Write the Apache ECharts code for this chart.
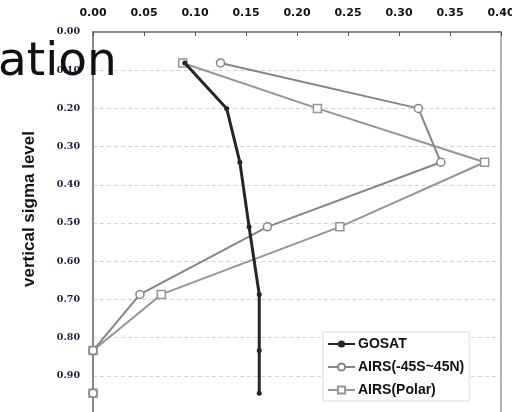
<!DOCTYPE html>
<html>
<head>
<meta charset="utf-8">
<script src="https://cdn.jsdelivr.net/npm/echarts@6/dist/echarts.min.js"></script>
<style>
  html, body { margin: 0; padding: 0; background: #fff; }
  #chart { width: 512px; height: 412px; }
</style>
</head>
<body>
<div id="chart"></div>
<script>
// Vertical sigma levels (y) shared by all profiles
const sigmaLevels = [0.081, 0.200, 0.341, 0.510, 0.687, 0.834, 0.946];
// Weighting profiles per series
const gosat = [0.090, 0.131, 0.144, 0.153, 0.163, 0.163, 0.163];
const airsTropics = [0.125, 0.319, 0.341, 0.171, 0.046, 0.000, 0.000];
const airsPolar = [0.088, 0.220, 0.384, 0.242, 0.067, 0.000, 0.000];
const seriesNames = ['GOSAT', 'AIRS(-45S~45N)', 'AIRS(Polar)'];
const xTicks = { min: 0, max: 0.40, step: 0.05 };
const yTicks = { min: 0, max: 1.0, step: 0.1 };

const pairs = vals => vals.map((v, i) => [v, sigmaLevels[i]]);

const chart = echarts.init(document.getElementById('chart'), null, { renderer: 'canvas' });

chart.setOption({
  animation: false,
  backgroundColor: '#fff',
  title: {
    text: 'ation',
    left: -2,
    top: 39,
    padding: 0,
    textStyle: { fontFamily: 'DejaVu Sans', fontSize: 47, fontWeight: 'normal', color: '#111' }
  },
  grid: {
    left: 93, top: 32, width: 408, height: 382,
    outerBoundsMode: 'none', containLabel: false,
    show: true, borderColor: '#9a9a9a', borderWidth: 1.5, backgroundColor: 'transparent'
  },
  xAxis: {
    type: 'value', position: 'top',
    min: xTicks.min, max: xTicks.max, interval: xTicks.step,
    axisLine: { show: true, lineStyle: { color: '#7a7a7a', width: 1.5 } },
    axisTick: { show: true, inside: true, length: 4, lineStyle: { color: '#555', width: 1 } },
    splitLine: { show: false },
    axisLabel: {
      margin: 13, formatter: v => v.toFixed(2),
      fontFamily: 'DejaVu Sans', fontWeight: 'bold', fontSize: 11, color: '#111'
    }
  },
  yAxis: {
    type: 'value', inverse: true,
    min: yTicks.min, max: yTicks.max, interval: yTicks.step,
    axisLine: { show: true, lineStyle: { color: '#7a7a7a', width: 1.5 } },
    axisTick: { show: false },
    splitLine: { show: true, lineStyle: { color: '#d4d4d4', type: [4, 3], width: 1 } },
    axisLabel: {
      margin: 13, showMaxLabel: false, formatter: v => v.toFixed(2),
      fontFamily: 'DejaVu Serif', fontWeight: 'bold', fontSize: 9.5, color: '#1c1c40'
    }
  },
  graphic: [{
    type: 'text',
    left: 21, top: 131,
    rotation: Math.PI / 2,
    style: {
      text: 'vertical sigma level',
      font: 'bold 17px "Liberation Sans", Arial, sans-serif',
      fill: '#111'
    }
  }],
  legend: {
    orient: 'vertical',
    left: 323, top: 332,
    padding: [5, 5, 4, 4],
    itemWidth: 27, itemHeight: 9, itemGap: 9,
    backgroundColor: '#fff',
    borderColor: '#dcdcdc', borderWidth: 1,
    textStyle: { fontFamily: 'Liberation Sans', fontWeight: 'bold', fontSize: 14, color: '#111', padding: [0, 0, 0, -2] },
    data: seriesNames
  },
  series: [
    {
      name: seriesNames[2], type: 'line', data: pairs(airsPolar),
      symbol: 'rect', symbolSize: 8,
      lineStyle: { color: '#959595', width: 2 },
      itemStyle: { color: '#fff', borderColor: '#959595', borderWidth: 1.5 },
      z: 2
    },
    {
      name: seriesNames[1], type: 'line', data: pairs(airsTropics),
      symbol: 'circle', symbolSize: 8,
      lineStyle: { color: '#858585', width: 2 },
      itemStyle: { color: '#fff', borderColor: '#858585', borderWidth: 1.5 },
      z: 3
    },
    {
      name: seriesNames[0], type: 'line', data: pairs(gosat),
      symbol: 'circle', symbolSize: 5,
      lineStyle: { color: '#262626', width: 3 },
      itemStyle: { color: '#262626' },
      z: 4
    }
  ]
});
</script>
</body>
</html>
